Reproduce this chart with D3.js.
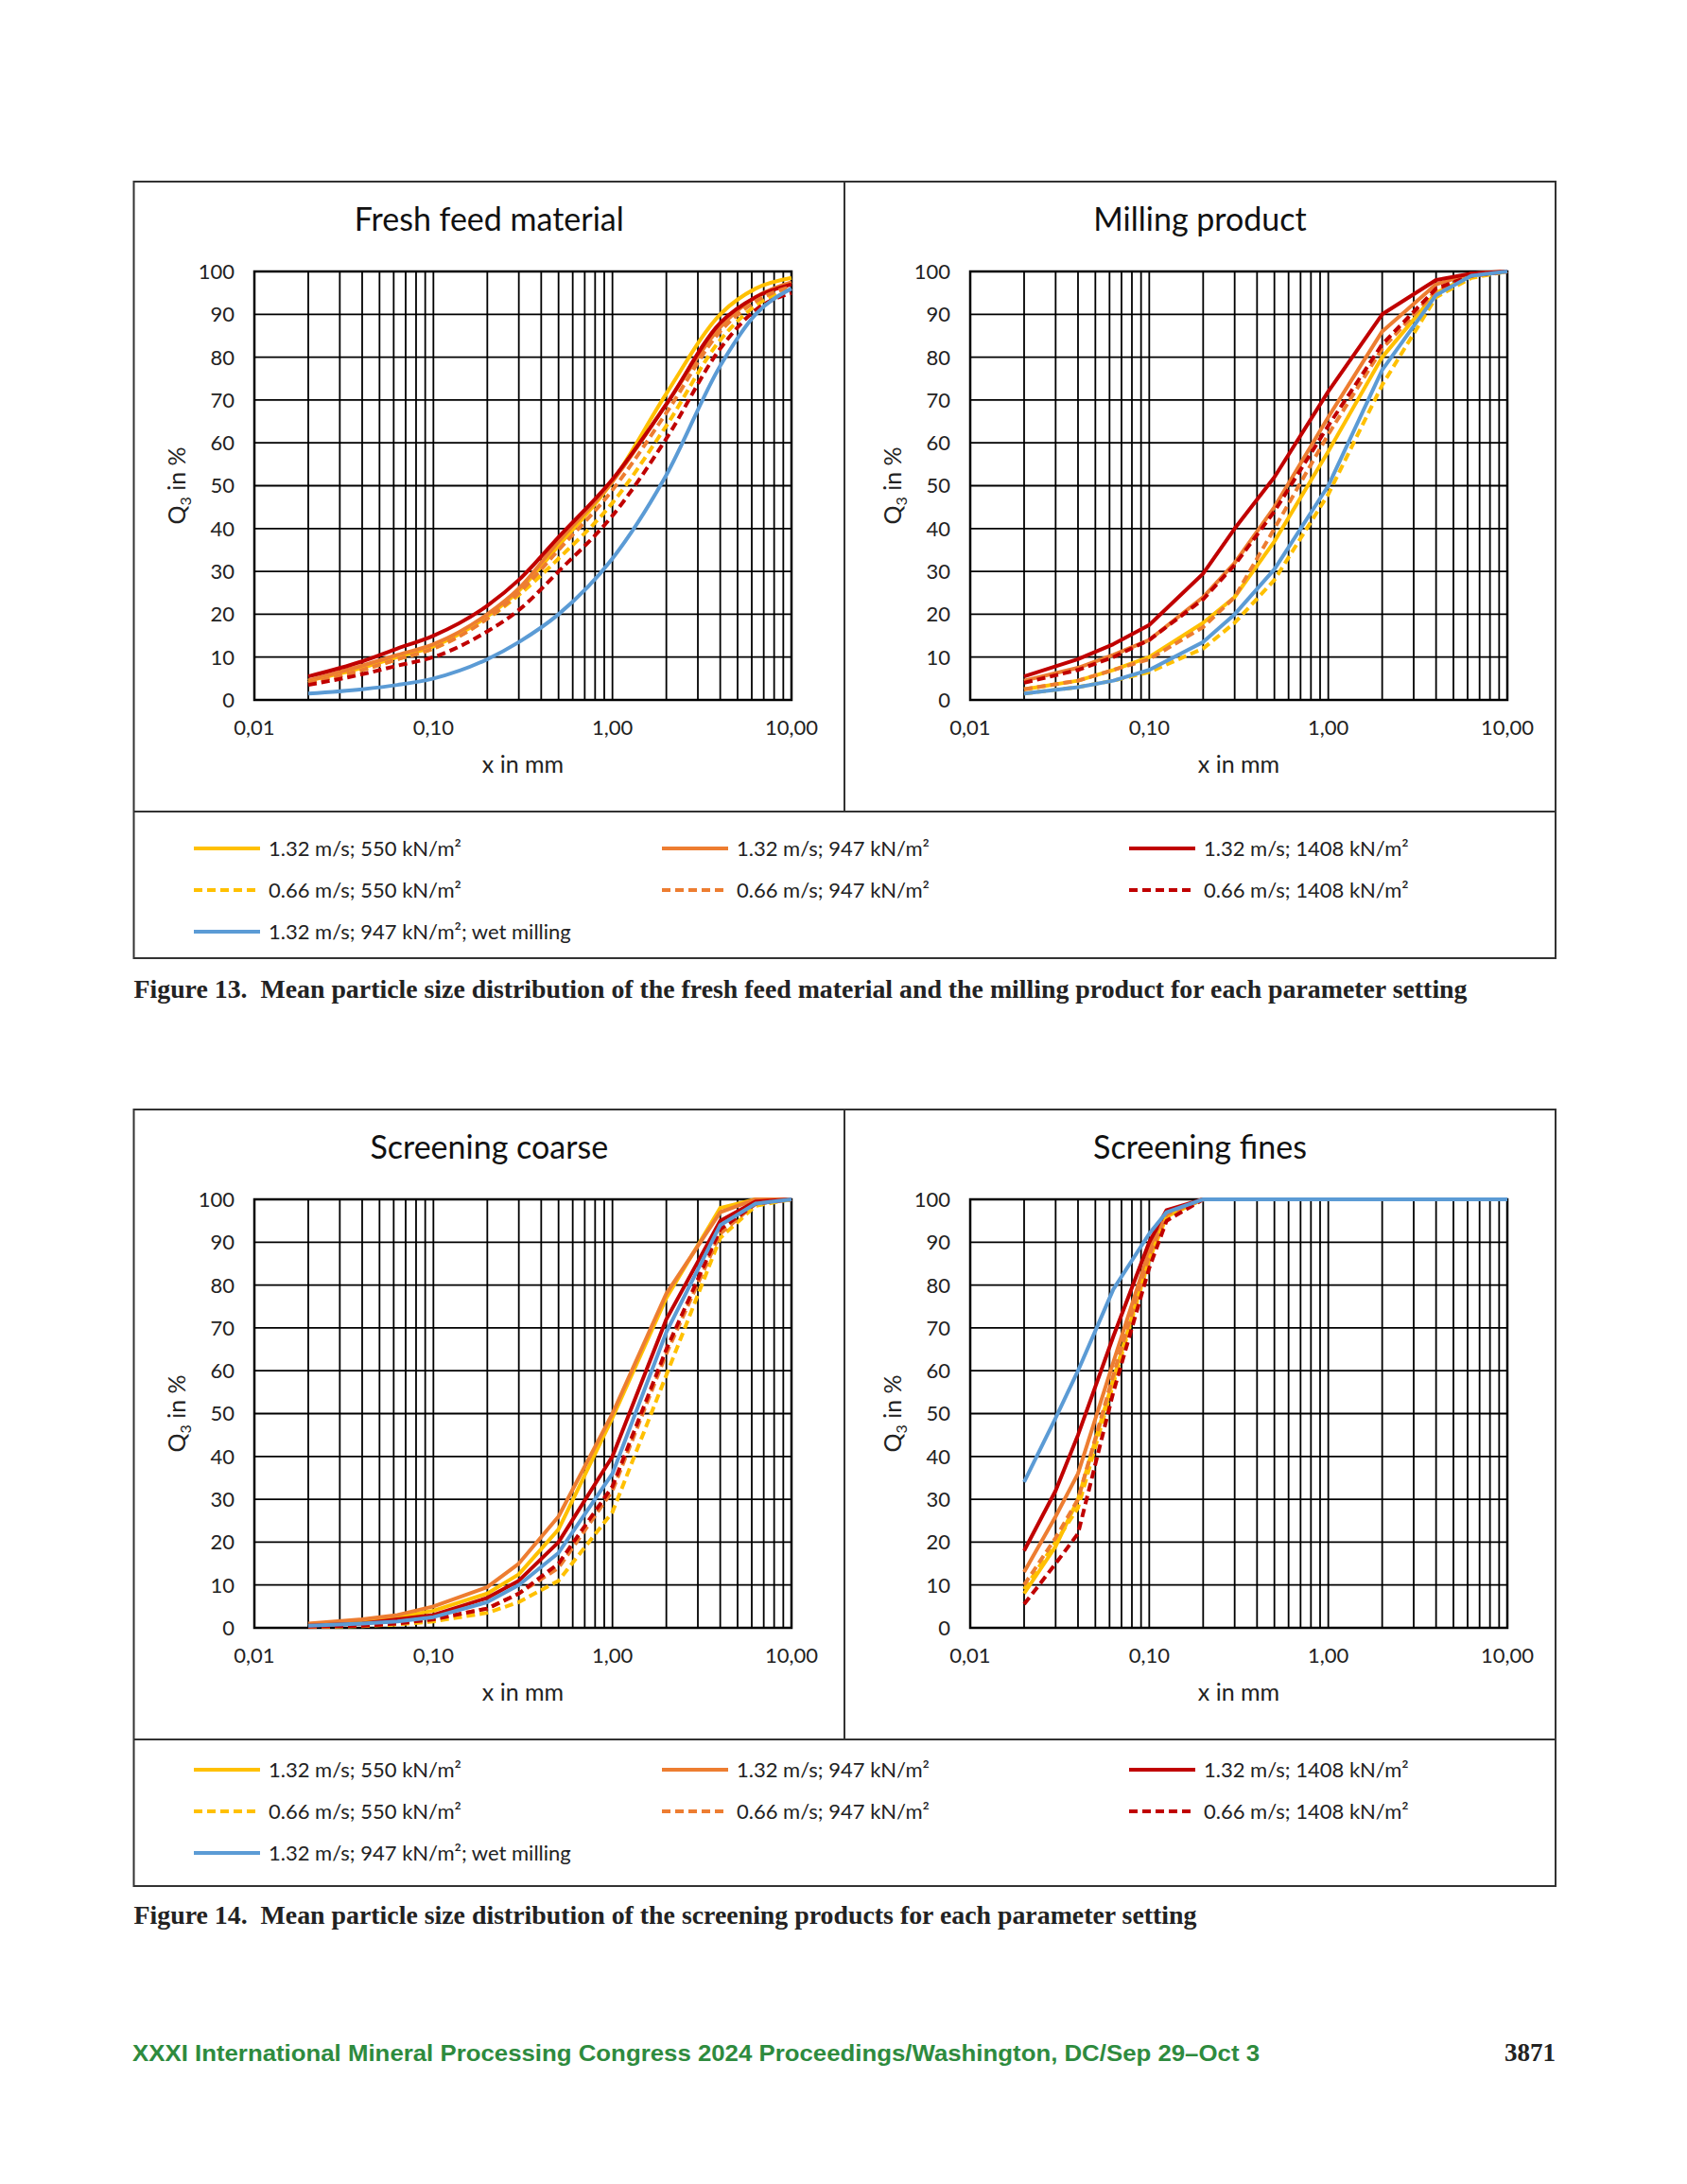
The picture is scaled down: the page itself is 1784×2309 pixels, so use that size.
<!DOCTYPE html>
<html>
<head>
<meta charset="utf-8">
<script src="https://cdn.jsdelivr.net/npm/d3@7"></script>
<style>
  body { margin: 0; background: #fff; }
</style>
</head>
<body>
<svg id="page"></svg>
<script>
// ---- data ----
const sizes = [0.02, 0.04, 0.063, 0.1, 0.2, 0.3, 0.5, 1, 2, 4, 6.3, 10];
const finesSizes = [0.02, 0.03, 0.04, 0.063, 0.1, 0.125, 0.2, 0.5, 1, 2, 4, 10];

const seriesNames = [
  "1.32 m/s; 550 kN/m²", "1.32 m/s; 947 kN/m²", "1.32 m/s; 1408 kN/m²",
  "0.66 m/s; 550 kN/m²", "0.66 m/s; 947 kN/m²", "0.66 m/s; 1408 kN/m²",
  "1.32 m/s; 947 kN/m²; wet milling"
];
const seriesColors = ["#FFC000", "#ED7D31", "#C00000", "#FFC000", "#ED7D31", "#C00000", "#5B9BD5"];
const seriesDashed = [false, false, false, true, true, true, false];

// Q3 in %, one row per series (same order as seriesNames)
const feedValues = [
  [4.5, 7.5, 10, 12.5, 19.5, 25.5, 36, 51, 71.5, 90, 96, 98.5],
  [4.5, 8, 10.5, 13, 20, 26, 37, 51, 69, 87, 94, 97.5],
  [5.5, 9, 12, 15, 22, 28, 38, 51.5, 69, 88, 94, 97],
  [4, 7, 9.5, 12, 19, 24.5, 33, 46, 64, 84, 92, 96],
  [4, 7, 9.5, 12, 19, 25, 35, 49, 67, 86, 93, 96.5],
  [3.5, 6, 8, 10, 16, 21, 30, 43, 61, 82, 91, 95],
  [1.5, 2.5, 3.5, 5, 9.5, 13.5, 20, 33, 52.5, 78, 90, 96]
];
const millingValues = [
  [2.5, 4.5, 7, 10, 18, 24, 37, 58, 80, 95, 99, 100],
  [4.5, 7.5, 10.5, 14, 24, 32, 45, 66, 86, 97, 99.5, 100],
  [5.5, 9.5, 13, 17.5, 29.5, 40, 52, 72, 90, 98, 99.5, 100],
  [1.5, 3, 4.5, 6.5, 12, 18, 28, 48, 73.5, 94, 98.5, 100],
  [2.5, 4.5, 7, 9.5, 17, 24, 40, 62, 82, 95.5, 99, 100],
  [4, 7, 10, 14, 23.5, 31.5, 44, 64, 83, 96, 99, 100],
  [1.5, 3, 4.5, 7, 13.5, 20, 30.5, 50, 77, 94.5, 99, 100]
];
const coarseValues = [
  [0.5, 1.5, 2.5, 4, 8, 12.5, 23, 49, 77, 98, 100, 100],
  [1, 2, 3, 5, 9.5, 15, 26, 50, 78, 97, 100, 100],
  [0.5, 1, 2, 3, 7, 11, 20, 40, 72, 95, 99.5, 100],
  [0.2, 0.4, 0.8, 1.5, 3.5, 6, 11, 27, 59, 91, 98.5, 100],
  [0.3, 0.5, 1, 2, 4.5, 8, 14, 32, 64, 92, 99, 100],
  [0.3, 0.5, 1, 2, 4.5, 8, 15, 33, 65, 93, 99, 100],
  [0.5, 1, 1.5, 2.5, 6, 10, 17.5, 36, 69, 94, 99, 100]
];
const finesValues = [
  [8, 19, 30, 58, 86, 96, 100, 100, 100, 100, 100, 100],
  [13, 26, 36, 62, 88, 97, 100, 100, 100, 100, 100, 100],
  [18, 32, 45, 68, 90, 97.5, 100, 100, 100, 100, 100, 100],
  [9, 20, 28, 57, 86, 96, 100, 100, 100, 100, 100, 100],
  [10, 21, 30, 59, 87, 96.5, 100, 100, 100, 100, 100, 100],
  [5.5, 15, 22, 55, 84, 95, 100, 100, 100, 100, 100, 100],
  [34, 49, 60, 79, 92, 97, 100, 100, 100, 100, 100, 100]
];

const xTicks = [0.01, 0.1, 1, 10];
const xTickLabels = ["0,01", "0,10", "1,00", "10,00"];
const yTicks = d3.range(0, 101, 10);

// ---- layout ----
const W = 1784, H = 2309;
const boxLeft = 141.5, boxRight = 1645, midX = 893;
const font = "Lato, 'Open Sans', sans-serif";

const svg = d3.select("#page").attr("width", W).attr("height", H)
  .style("font-family", font);

function drawChart(top, left, chart) {
  const plot = { x0: left, x1: left + 568, y0: top + 95, y1: top + 548 };
  const panelCenter = left < midX ? (boxLeft + midX) / 2 : (midX + boxRight) / 2;
  const g = svg.append("g");

  const x = d3.scaleLog().domain([0.01, 10]).range([plot.x0, plot.x1]);
  const y = d3.scaleLinear().domain([0, 100]).range([plot.y1, plot.y0]);

  g.append("text")
    .attr("x", panelCenter).attr("y", top + 52)
    .attr("text-anchor", "middle")
    .attr("font-size", 34).attr("fill", "#111")
    .text(chart.title);

  // vertical grid: decades plus 2..9 subdivisions
  let vlines = [];
  [0.01, 0.1, 1].forEach((d) => {
    for (let k = 1; k <= 9; k++) vlines.push(d * k);
  });
  vlines.push(10);

  g.append("g").selectAll("line").data(vlines).join("line")
    .attr("x1", (d) => x(d)).attr("x2", (d) => x(d))
    .attr("y1", plot.y0).attr("y2", plot.y1)
    .attr("stroke", "#000").attr("stroke-width", 1.8);

  g.append("g").selectAll("line").data(yTicks).join("line")
    .attr("x1", plot.x0).attr("x2", plot.x1)
    .attr("y1", (d) => y(d)).attr("y2", (d) => y(d))
    .attr("stroke", "#000").attr("stroke-width", 1.8);

  g.append("rect")
    .attr("x", plot.x0).attr("y", plot.y0)
    .attr("width", plot.x1 - plot.x0).attr("height", plot.y1 - plot.y0)
    .attr("fill", "none").attr("stroke", "#000").attr("stroke-width", 2.5);

  // tick labels
  g.append("g").selectAll("text").data(yTicks).join("text")
    .attr("x", plot.x0 - 21).attr("y", (d) => y(d))
    .attr("dy", "0.36em").attr("text-anchor", "end")
    .attr("font-size", 22).attr("fill", "#222")
    .text((d) => d);

  g.append("g").selectAll("text").data(xTicks).join("text")
    .attr("x", (d) => x(d)).attr("y", plot.y1 + 37)
    .attr("text-anchor", "middle")
    .attr("font-size", 22).attr("fill", "#222")
    .text((d, i) => xTickLabels[i]);

  g.append("text")
    .attr("x", (plot.x0 + plot.x1) / 2).attr("y", plot.y1 + 77)
    .attr("text-anchor", "middle")
    .attr("font-size", 25).attr("fill", "#222")
    .text("x in mm");

  const yl = g.append("text")
    .attr("transform", `translate(${plot.x0 - 73},${(plot.y0 + plot.y1) / 2}) rotate(-90)`)
    .attr("text-anchor", "middle")
    .attr("font-size", 25).attr("fill", "#222");
  yl.append("tspan").text("Q");
  yl.append("tspan").attr("font-size", 16).attr("dy", 6).text("3");
  yl.append("tspan").attr("dy", -6).text(" in %");

  // curves (fresh feed is drawn smoothed, as in the original)
  const line = d3.line()
    .x((d) => x(d[0]))
    .y((d) => y(d[1]))
    .curve(chart.smooth ? d3.curveMonotoneX : d3.curveLinear);

  chart.values.forEach((row, i) => {
    const pts = chart.xs.map((s, j) => [s, row[j]]);
    g.append("path")
      .attr("d", line(pts))
      .attr("fill", "none")
      .attr("stroke", seriesColors[i])
      .attr("stroke-width", 4)
      .attr("stroke-linejoin", "round")
      .attr("stroke-dasharray", seriesDashed[i] ? "9,5" : null);
  });
}

function drawFigure(top, legendTop, captionY, caption, charts) {
  // frame
  svg.append("rect")
    .attr("x", boxLeft).attr("y", top)
    .attr("width", boxRight - boxLeft).attr("height", 821)
    .attr("fill", "none").attr("stroke", "#333").attr("stroke-width", 2);
  svg.append("line")
    .attr("x1", midX).attr("x2", midX).attr("y1", top).attr("y2", top + 666)
    .attr("stroke", "#333").attr("stroke-width", 2);
  svg.append("line")
    .attr("x1", boxLeft).attr("x2", boxRight).attr("y1", top + 666).attr("y2", top + 666)
    .attr("stroke", "#333").attr("stroke-width", 2);

  drawChart(top, 269, charts[0]);
  drawChart(top, 1026, charts[1]);

  // legend: 3 columns, 3 rows
  const colX = [205, 700, 1194];
  const leg = svg.append("g");
  seriesNames.forEach((name, i) => {
    const col = i < 6 ? i % 3 : 0;
    const row = i < 6 ? Math.floor(i / 3) : 2;
    const lx = colX[col], ly = legendTop + row * 44;
    leg.append("line")
      .attr("x1", lx).attr("x2", lx + 70).attr("y1", ly).attr("y2", ly)
      .attr("stroke", seriesColors[i]).attr("stroke-width", 4)
      .attr("stroke-dasharray", seriesDashed[i] ? "9,5" : null);
    leg.append("text")
      .attr("x", lx + 79).attr("y", ly).attr("dy", "0.36em")
      .attr("font-size", 22).attr("fill", "#222")
      .text(name);
  });

  svg.append("text")
    .attr("x", boxLeft).attr("y", captionY)
    .attr("font-family", "'Liberation Serif', serif")
    .attr("font-weight", "bold").attr("font-size", 27).attr("fill", "#222")
    .attr("textLength", caption.width).attr("lengthAdjust", "spacingAndGlyphs")
    .text(caption.text);
}

drawFigure(192, 897, 1055,
  { text: "Figure 13.\u2002Mean particle size distribution of the fresh feed material and the milling product for each parameter setting", width: 1410 },
  [
    { title: "Fresh feed material", xs: sizes, values: feedValues, smooth: true },
    { title: "Milling product", xs: sizes, values: millingValues }
  ]);

drawFigure(1173, 1871, 2034,
  { text: "Figure 14.\u2002Mean particle size distribution of the screening products for each parameter setting", width: 1124 },
  [
    { title: "Screening coarse", xs: sizes, values: coarseValues },
    { title: "Screening fines", xs: finesSizes, values: finesValues }
  ]);

// footer
svg.append("text")
  .attr("x", 140).attr("y", 2179)
  .attr("font-family", "'Liberation Sans', Arial, sans-serif")
  .attr("font-weight", "bold").attr("font-size", 24).attr("fill", "#2E8B3E")
  .attr("textLength", 1192).attr("lengthAdjust", "spacingAndGlyphs")
  .text("XXXI International Mineral Processing Congress 2024 Proceedings/Washington, DC/Sep 29–Oct 3");

svg.append("text")
  .attr("x", 1645).attr("y", 2179)
  .attr("text-anchor", "end")
  .attr("font-family", "'Liberation Serif', serif")
  .attr("font-weight", "bold").attr("font-size", 27).attr("fill", "#222")
  .text("3871");
</script>
</body>
</html>
